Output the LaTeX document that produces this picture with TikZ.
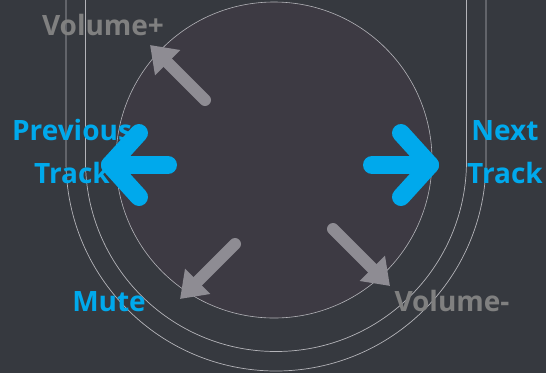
\documentclass[tikz,border=0pt]{standalone}
\usepackage{fontspec}
\setmainfont{Open Sans}
\usetikzlibrary{arrows.meta, positioning}
\definecolor{bg}{HTML}{36393F}
\definecolor{pad}{HTML}{3D3A43}
\definecolor{rim}{HTML}{B4B4B9}
\definecolor{actionblue}{HTML}{00A9EC}
\definecolor{volgray}{HTML}{8E8C93}
\definecolor{voltext}{HTML}{808080}
\tikzstyle{action} = [text=actionblue, font=\bfseries\fontsize{28}{43}\selectfont, align=center, inner sep=0pt, anchor=base]
\tikzstyle{volume} = [text=voltext, font=\bfseries\fontsize{28}{34}\selectfont, inner sep=0pt, anchor=base]
\tikzstyle{trackarrow} = [draw=actionblue, line width=18pt, line cap=round, line join=round]
\tikzstyle{volarrow} = [draw=volgray, fill=volgray, line width=12pt, line cap=round, -{Triangle[length=25pt,width=34pt]}]
\tikzstyle{guide} = [draw=rim, line width=0.7pt]

\begin{document}
\begin{tikzpicture}[x=1pt, y=-1pt]
        \fill[bg] (0,0) rectangle (546,373);
        \useasboundingbox (0,0) rectangle (546,373);
        % guide rails
        \draw[guide] (66,0) -- (66,161) arc[start angle=180, end angle=0, radius=210] -- (486,0);
        \draw[guide] (85.5,0) -- (85.5,161) arc[start angle=180, end angle=0, radius=190.5] -- (466.5,0);
        \node[circle, draw=rim, line width=0.6pt, fill=pad, minimum size=316pt, inner sep=0pt] (pad) at (274,160) {};
        % track arrows
        \coordinate (prevtip) at (110,165);
        \coordinate (prevtail) at (168,165);
        \coordinate (prevtop) at (139,133);
        \coordinate (prevbot) at (139,197);
        \coordinate (nexttip) at (430,165);
        \coordinate (nexttail) at (372,165);
        \coordinate (nexttop) at (401,133);
        \coordinate (nextbot) at (401,197);
        \draw[trackarrow] (prevtop) -- (prevtip) -- (prevbot);
        \draw[trackarrow] (prevtail) -- (prevtip);
        \draw[trackarrow] (nexttop) -- (nexttip) -- (nextbot);
        \draw[trackarrow] (nexttail) -- (nexttip);
        % volume arrows
        \coordinate (uptail) at (205,100);
        \coordinate (uptip) at (150,45);
        \coordinate (mutetail) at (235,244);
        \coordinate (mutetip) at (180,299);
        \coordinate (downtail) at (333,229);
        \coordinate (downtip) at (390,286);
        \draw[volarrow] (uptail) -- (uptip);
        \draw[volarrow] (mutetail) -- (mutetip);
        \draw[volarrow] (downtail) -- (downtip);
        % labels
        \node[volume] (volup) at (103,35) {Volume+};
        \node[action] (prev) at (72,183) {Previous\\Track};
        \node[action] (next) at (505,183) {Next\\Track};
        \node[action] (mute) at (109,311) {Mute};
        \node[volume] (voldown) at (452,311) {Volume-};
\end{tikzpicture}
\end{document}
